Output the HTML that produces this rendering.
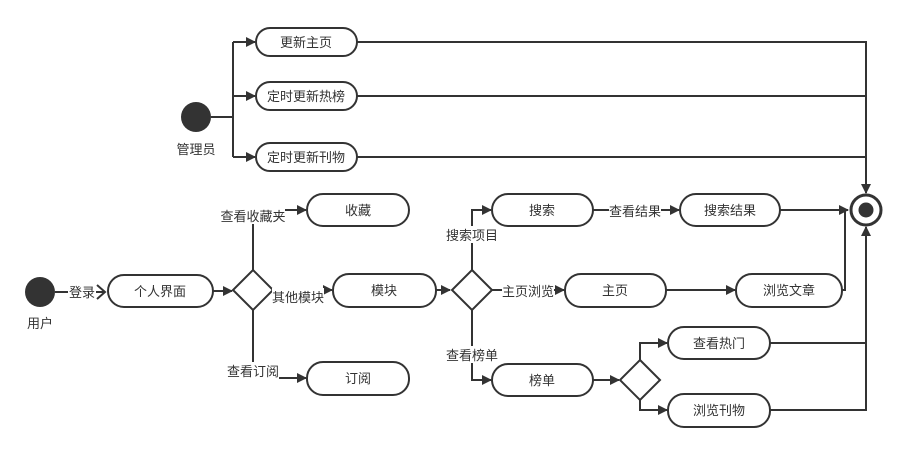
<!DOCTYPE html>
<html><head><meta charset="utf-8"><style>
html,body{margin:0;padding:0;background:#fff;width:905px;height:451px;overflow:hidden}
text{font-family:"Liberation Sans","Noto Sans CJK SC",sans-serif;font-size:13px;fill:#333}
</style></head><body>
<svg width="905" height="451" viewBox="0 0 905 451" xmlns="http://www.w3.org/2000/svg">
<defs>
<marker id="a" markerWidth="10" markerHeight="10" refX="9" refY="5" orient="auto" markerUnits="userSpaceOnUse">
<path d="M0,0 L10,5 L0,10 Z" fill="#333"/></marker>
</defs>
<g fill="none" stroke="#333" stroke-width="2">
<!-- admin -->
<line x1="211" y1="117" x2="233" y2="117"/>
<line x1="233" y1="42" x2="233" y2="157"/>
<line x1="233" y1="42" x2="255" y2="42" marker-end="url(#a)"/>
<line x1="233" y1="96" x2="255" y2="96" marker-end="url(#a)"/>
<line x1="233" y1="157" x2="255" y2="157" marker-end="url(#a)"/>
<polyline points="357,42 866,42 866,193" marker-end="url(#a)"/>
<line x1="357" y1="96" x2="866" y2="96"/>
<line x1="357" y1="157" x2="866" y2="157"/>
<!-- user -->
<line x1="55" y1="292" x2="105" y2="292"/>
<polyline points="97,285 105,292 97,299"/>
<line x1="213" y1="291" x2="232" y2="291" marker-end="url(#a)"/>
<polyline points="253,270 253,210 306,210" marker-end="url(#a)"/>
<polyline points="253,310 253,378 306,378" marker-end="url(#a)"/>
<line x1="273" y1="290" x2="332" y2="290" marker-end="url(#a)"/>
<line x1="436" y1="290" x2="450" y2="290" marker-end="url(#a)"/>
<polyline points="472,270 472,210 491,210" marker-end="url(#a)"/>
<polyline points="472,310 472,380 491,380" marker-end="url(#a)"/>
<line x1="492" y1="290" x2="564" y2="290" marker-end="url(#a)"/>
<line x1="593" y1="210" x2="679" y2="210" marker-end="url(#a)"/>
<line x1="780" y1="210" x2="848" y2="210" marker-end="url(#a)"/>
<line x1="666" y1="290" x2="735" y2="290" marker-end="url(#a)"/>
<polyline points="842,290 845,290 845,210"/>
<line x1="593" y1="380" x2="619" y2="380" marker-end="url(#a)"/>
<polyline points="640,360 640,343 667,343" marker-end="url(#a)"/>
<polyline points="640,400 640,410 667,410" marker-end="url(#a)"/>
<line x1="770" y1="343" x2="866" y2="343"/>
<polyline points="770,410 866,410 866,227" marker-end="url(#a)"/>
</g>
<!-- nodes -->
<circle cx="196" cy="117" r="15" fill="#333"/>
<circle cx="40" cy="292" r="15" fill="#333"/>
<circle cx="866" cy="210" r="15" fill="#fff" stroke="#333" stroke-width="3"/>
<circle cx="866" cy="210" r="7.5" fill="#333"/>
<g fill="#fff" stroke="#333" stroke-width="2">
<rect x="256" y="28" width="101" height="28" rx="14"/>
<rect x="256" y="82" width="101" height="28" rx="14"/>
<rect x="256" y="143" width="101" height="28" rx="14"/>
<rect x="108" y="275" width="105" height="32" rx="16"/>
<rect x="307" y="194" width="102" height="32" rx="16"/>
<rect x="307" y="362" width="102" height="33" rx="16"/>
<rect x="333" y="274" width="103" height="33" rx="16"/>
<rect x="492" y="194" width="101" height="32" rx="16"/>
<rect x="680" y="194" width="100" height="32" rx="16"/>
<rect x="565" y="274" width="101" height="33" rx="16"/>
<rect x="736" y="274" width="106" height="33" rx="16"/>
<rect x="492" y="364" width="101" height="32" rx="16"/>
<rect x="668" y="327" width="102" height="32" rx="16"/>
<rect x="668" y="394" width="102" height="33" rx="16"/>
<polygon points="253,270 273,290 253,310 233,290"/>
<polygon points="472,270 492,290 472,310 452,290"/>
<polygon points="640,360 660,380 640,400 620,380"/>
</g>
<g text-anchor="middle">
<text x="306" y="47">更新主页</text>
<text x="306" y="101">定时更新热榜</text>
<text x="306" y="162">定时更新刊物</text>
<text x="196" y="154">管理员</text>
<text x="40" y="328">用户</text>
<text x="160" y="296">个人界面</text>
<text x="358" y="215">收藏</text>
<text x="358" y="383">订阅</text>
<text x="384" y="295">模块</text>
<text x="542" y="215">搜索</text>
<text x="730" y="215">搜索结果</text>
<text x="615" y="295">主页</text>
<text x="789" y="295">浏览文章</text>
<text x="542" y="385">榜单</text>
<text x="719" y="348">查看热门</text>
<text x="719" y="415">浏览刊物</text>
</g>
<g text-anchor="middle">
<rect x="68" y="283" width="28" height="17" fill="#fff"/><text x="82" y="297">登录</text>
<rect x="221" y="207" width="64" height="17" fill="#fff"/><text x="253" y="221">查看收藏夹</text>
<rect x="227" y="362" width="52" height="17" fill="#fff"/><text x="253" y="376">查看订阅</text>
<rect x="272" y="288" width="52" height="17" fill="#fff"/><text x="298" y="302">其他模块</text>
<rect x="446" y="226" width="52" height="17" fill="#fff"/><text x="472" y="240">搜索项目</text>
<rect x="446" y="346" width="52" height="17" fill="#fff"/><text x="472" y="360">查看榜单</text>
<rect x="502" y="282" width="52" height="17" fill="#fff"/><text x="528" y="296">主页浏览</text>
<rect x="609" y="202" width="52" height="17" fill="#fff"/><text x="635" y="216">查看结果</text>
</g>
</svg>
</body></html>
